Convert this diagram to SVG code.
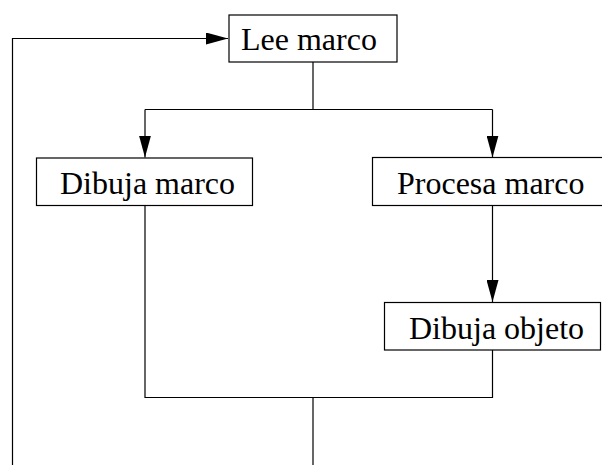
<svg xmlns="http://www.w3.org/2000/svg" width="602" height="465" viewBox="0 0 602 465">
  <style>
    .box { fill: #ffffff; stroke: #000000; stroke-width: 1.2; }
    .lbl { font-family: "Liberation Serif", "Times New Roman", serif; font-size: 32px; fill: #000000; }
    .wire { fill: none; stroke: #000000; stroke-width: 1.2; }
  </style>
  <defs>
    <marker id="arrow" markerUnits="userSpaceOnUse" markerWidth="22" markerHeight="12" viewBox="0 0 22 12" refX="22" refY="6" orient="auto">
      <path d="M0,0 L22,6 L0,12 Z" fill="#000000"/>
    </marker>
  </defs>

  <g id="connectors">
    <!-- loop back from the bottom to the top -->
    <path class="wire" d="M12.5,465 V38.5 H228" marker-end="url(#arrow)"/>
    <!-- fork below "Lee marco" -->
    <path class="wire" d="M313,62 V109.5"/>
    <path class="wire" d="M145,109.5 H492.5"/>
    <path class="wire" d="M145,109.5 V157.5" marker-end="url(#arrow)"/>
    <path class="wire" d="M492.5,109.5 V157.5" marker-end="url(#arrow)"/>
    <!-- Procesa marco to Dibuja objeto -->
    <path class="wire" d="M492.5,205.5 V302" marker-end="url(#arrow)"/>
    <!-- join -->
    <path class="wire" d="M145,205.5 V397.5 H492.5 V350"/>
    <path class="wire" d="M313,397.5 V465"/>
  </g>

  <g id="lee-marco">
    <rect class="box" x="229" y="15" width="168" height="47"/>
    <text class="lbl" x="241" y="50">Lee marco</text>
  </g>

  <g id="dibuja-marco">
    <rect class="box" x="36.5" y="158" width="216" height="47.5"/>
    <text class="lbl" x="60" y="194">Dibuja marco</text>
  </g>

  <g id="procesa-marco">
    <rect class="box" x="372.5" y="157.5" width="240" height="48"/>
    <text class="lbl" x="397" y="194">Procesa marco</text>
  </g>

  <g id="dibuja-objeto">
    <rect class="box" x="384.5" y="302.5" width="216" height="47.5"/>
    <text class="lbl" x="409" y="339">Dibuja objeto</text>
  </g>
</svg>
